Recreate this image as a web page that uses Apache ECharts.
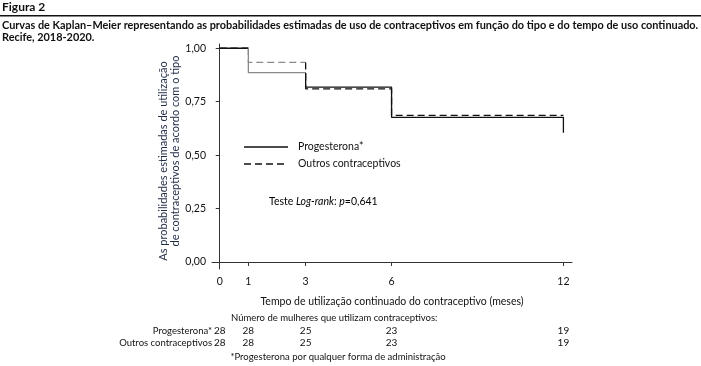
<!DOCTYPE html>
<html><head><meta charset="utf-8">
<script src="https://cdn.jsdelivr.net/npm/echarts@6/dist/echarts.min.js"></script>
<style>html,body{margin:0;padding:0;background:#fff}#c{width:701px;height:366px}</style>
</head><body><div id="c"></div>
<script>
// ---- data ----
const times = [0, 1, 3, 6, 12];
const xTickLabels = ['0', '1', '3', '6', '12'];
const yTicks = [0, 0.25, 0.5, 0.75, 1];
const yTickLabels = ['0,00', '0,25', '0,50', '0,75', '1,00'];
const progesterona = [1.000, 0.886, 0.818, 0.677, 0.605];
const outros = [1.000, 0.934, 0.810, 0.686, 0.686];
const nProgesterona = [28, 28, 25, 23, 19];
const nOutros = [28, 28, 25, 23, 19];
const seriesNames = ['Progesterona*', 'Outros contraceptivos'];

const FONT = 'Lato';
const BLACK = '#111';
const GRAY = '#8a8a8a';

// step-curve segments: 0-1 black, 1-3 gray, 3-end black
function segs(vals) {
  const a = [[times[0], vals[0]], [times[1], vals[0]]];
  const b = [[times[1], vals[0]], [times[1], vals[1]], [times[2], vals[1]]];
  const c = [[times[2], vals[1]]];
  for (let i = 2; i < times.length; i++) {
    c.push([times[i], vals[i]]);
    if (i < times.length - 1) c.push([times[i + 1], vals[i]]);
  }
  return [a, b, c];
}
function mk(name, vals, type) {
  const [a, b, c] = segs(vals);
  const cols = [BLACK, GRAY, BLACK];
  return [a, b, c].map((d, i) => ({
    name, type: 'line', data: d, symbol: 'none', silent: true,
    lineStyle: { color: cols[i], width: 1.3, type: type === 'dashed' ? [7, 4] : 'solid' },
    xAxisIndex: 0, yAxisIndex: 0, animation: false
  }));
}

const chart = echarts.init(document.getElementById('c'));
const countAxis = (offset, arr) => ({
  type: 'value', min: -0.27, max: 12.3, position: 'bottom', offset,
  axisLine: { show: false }, axisTick: { show: false }, splitLine: { show: false },
  axisLabel: {
    customValues: times, margin: 0, fontFamily: FONT, fontSize: 10, color: BLACK,
    formatter: v => { const i = times.indexOf(v); return i >= 0 ? String(arr[i]) : ''; }
  }
});
chart.setOption({
  animation: false,
  grid: { left: 212, right: 129, top: 44, bottom: 97, containLabel: false },
  xAxis: [{
    type: 'value', min: -0.27, max: 12.3,
    axisLine: { show: true, lineStyle: { color: '#333', width: 1 } },
    axisTick: { show: true, customValues: times, length: 4, lineStyle: { color: '#333' } },
    axisLabel: { customValues: times, margin: 7, fontFamily: FONT, fontSize: 10.5, color: BLACK,
      formatter: v => { const i = times.indexOf(v); return i >= 0 ? xTickLabels[i] : ''; } },
    splitLine: { show: false },
    name: 'Tempo de utilização continuado do contraceptivo (meses)',
    nameLocation: 'middle', nameGap: 27,
    nameTextStyle: { fontFamily: FONT, fontSize: 10.5, color: BLACK }
  }, countAxis(57, nProgesterona), countAxis(69, nOutros)],
  yAxis: {
    type: 'value', min: -0.033, max: 1.02,
    axisLine: { show: true, lineStyle: { color: '#333', width: 1 } },
    axisTick: { show: true, customValues: yTicks, length: 4, lineStyle: { color: '#333' } },
    axisLabel: { customValues: yTicks, margin: 6, fontFamily: FONT, fontSize: 10.5, color: BLACK,
      formatter: v => { const i = yTicks.indexOf(v); return i >= 0 ? yTickLabels[i] : ''; } },
    splitLine: { show: false }
  },
  series: [...mk(seriesNames[0], progesterona, 'solid'), ...mk(seriesNames[1], outros, 'dashed')],
  graphic: [
    { type: 'text', left: 2, top: 1, style: { text: 'Figura 2', font: 'bold 12px "' + FONT + '"', fill: BLACK } },
    { type: 'rect', shape: { x: 0, y: 15, width: 701, height: 1.5 }, style: { fill: '#111' } },
    { type: 'text', left: 2, top: 19, style: { text: 'Curvas de Kaplan–Meier representando as probabilidades estimadas de uso de contraceptivos em função do tipo e do tempo de uso continuado.\nRecife, 2018-2020.', font: 'bold 10.9px "' + FONT + '"', fill: BLACK, lineHeight: 12.5 } },
    // y-axis title (two rotated lines)
    { type: 'text', x: 163, y: 161, rotation: Math.PI / 2, style: { text: 'As probabilidades estimadas de utilização', font: '11px "' + FONT + '"', fill: '#1f2a44', align: 'center', verticalAlign: 'middle' } },
    { type: 'text', x: 175, y: 151, rotation: Math.PI / 2, style: { text: 'de contraceptivos de acordo com o tipo', font: '11px "' + FONT + '"', fill: '#1f2a44', align: 'center', verticalAlign: 'middle' } },
    // legend
    { type: 'line', shape: { x1: 244, y1: 147, x2: 288, y2: 147 }, style: { stroke: BLACK, lineWidth: 1.3 } },
    { type: 'text', x: 298, y: 147, style: { text: seriesNames[0], font: '10.5px "' + FONT + '"', fill: BLACK, verticalAlign: 'middle' } },
    { type: 'line', shape: { x1: 244, y1: 164, x2: 288, y2: 164 }, style: { stroke: BLACK, lineWidth: 1.3, lineDash: [7, 4] } },
    { type: 'text', x: 298, y: 164, style: { text: seriesNames[1], font: '10.5px "' + FONT + '"', fill: BLACK, verticalAlign: 'middle' } },
    { type: 'text', x: 269, y: 202, style: { verticalAlign: 'middle', rich: {
        n: { fontFamily: FONT, fontSize: 10.5, color: BLACK },
        i: { fontFamily: FONT, fontSize: 10.5, fontStyle: 'italic', color: BLACK } },
      text: '{n|Teste }{i|Log-rank}{n|: }{i|p}{n|=0,641}' } },
    // risk table
    { type: 'text', x: 231, y: 318, style: { text: 'Número de mulheres que utilizam contraceptivos:', font: '9.5px "' + FONT + '"', fill: BLACK, verticalAlign: 'middle' } },
    { type: 'text', x: 212, y: 331, style: { text: seriesNames[0], font: '9.5px "' + FONT + '"', fill: BLACK, align: 'right', verticalAlign: 'middle' } },
    { type: 'text', x: 212, y: 343, style: { text: seriesNames[1], font: '9.5px "' + FONT + '"', fill: BLACK, align: 'right', verticalAlign: 'middle' } },
    { type: 'text', x: 338, y: 357, style: { text: '*Progesterona por qualquer forma de administração', font: '9.5px "' + FONT + '"', fill: BLACK, align: 'center', verticalAlign: 'middle' } }
  ]
});
</script></body></html>
